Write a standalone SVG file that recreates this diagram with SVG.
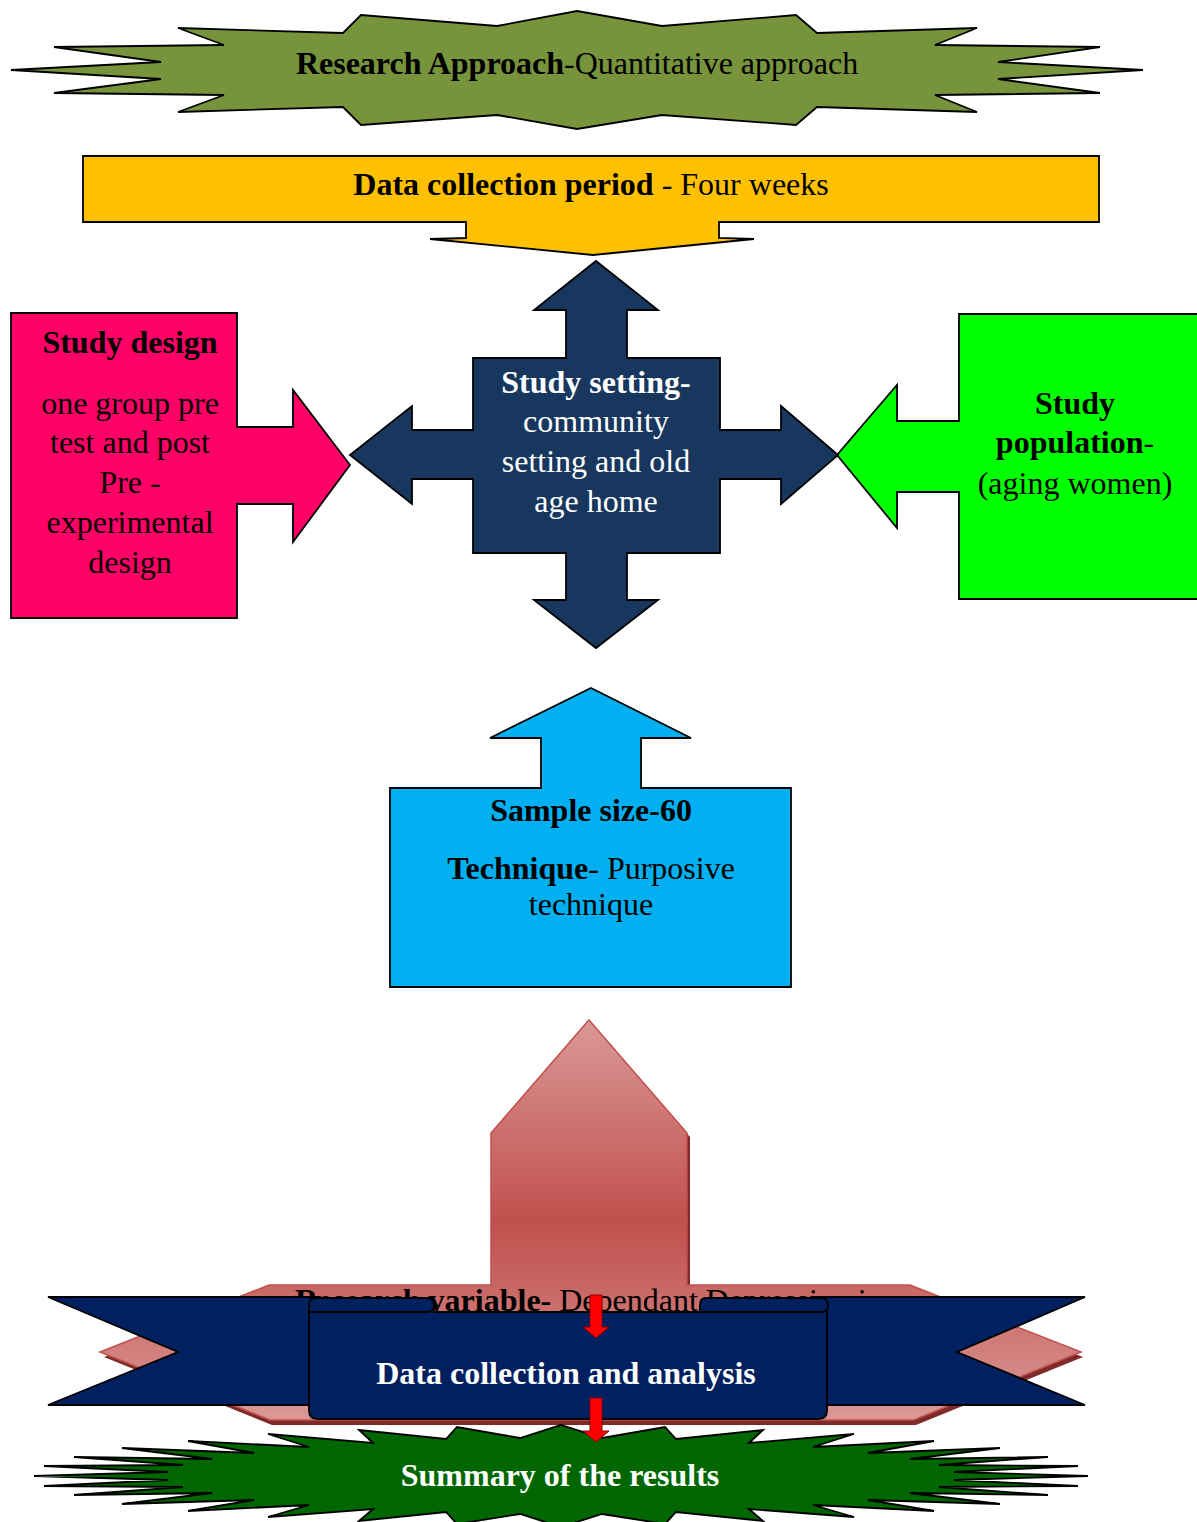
<svg xmlns="http://www.w3.org/2000/svg" width="1197" height="1522" viewBox="0 0 1197 1522">
<style>
text{font-family:"Liberation Serif","Times New Roman",serif;font-size:32px;text-anchor:middle}
.b{font-weight:bold}
.w{fill:#ffffff}
.k{fill:#000000}
.o{stroke:#000;stroke-width:1.8;stroke-linejoin:miter}
</style>
<defs>
<linearGradient id="rg" gradientUnits="userSpaceOnUse" x1="0" y1="1020" x2="0" y2="1425">
<stop offset="0" stop-color="#DA9896"/>
<stop offset="0.5" stop-color="#C0504D"/>
<stop offset="1" stop-color="#DB9A98"/>
</linearGradient>
</defs>

<g id="research-approach">
<polygon class="o" fill="#77933C" points="11,70 161,62 54,47 224,45 178,28 343,33 361,15 497,26 577,11 662,26 796,15 817,33 977,28 935,45 1100,47 998,62 1143,70 998,79 1100,93 935,95 977,112 817,107 796,125 662,115 577,129 497,115 361,125 343,107 178,112 224,95 54,93 161,79"/>
<text x="577" y="74" class="k"><tspan class="b">Research Approach</tspan>-Quantitative approach</text>
</g>

<g id="data-collection-period">
<polygon class="o" fill="#FFC000" points="83,156 1099,156 1099,222 719,222 719,238 754,239 593,255 430,239 466,238 466,222 83,222"/>
<text x="591" y="195" class="k"><tspan class="b">Data collection period</tspan> - Four weeks</text>
</g>

<g id="study-design">
<polygon class="o" fill="#FF0066" points="11,313 237,313 237,427 293,427 293,390 350,465 293,542 293,504 237,504 237,618 11,618"/>
<text x="130" y="353" class="k b">Study design</text>
<text x="130" y="414" class="k">one group pre</text>
<text x="130" y="453" class="k">test and post</text>
<text x="130" y="493" class="k">Pre -</text>
<text x="130" y="533" class="k">experimental</text>
<text x="130" y="573" class="k">design</text>
</g>

<g id="study-population">
<polygon class="o" fill="#00FF00" points="1199,314 959,314 959,421 897,421 897,385 837,455 897,528 897,492 959,492 959,599 1199,599"/>
<text x="1075" y="414" class="k b">Study</text>
<text x="1075" y="453" class="k"><tspan class="b">population</tspan>-</text>
<text x="1075" y="494" class="k">(aging women)</text>
</g>

<g id="study-setting">
<polygon class="o" fill="#17375E" points="596,261 658,310 627,310 627,358 720,358 720,430 781,430 781,406 838,455 781,504 781,479 720,479 720,553 627,553 627,600 658,600 596,648 534,600 566,600 566,553 473,553 473,479 412,479 412,504 350,455 412,406 412,430 473,430 473,358 566,358 566,310 534,310"/>
<text x="596" y="393" class="w b">Study setting-</text>
<text x="596" y="432" class="w">community</text>
<text x="596" y="472" class="w">setting and old</text>
<text x="596" y="512" class="w">age home</text>
</g>

<g id="sample">
<polygon class="o" fill="#00B0F0" points="591,688 691,738 641,738 641,788 791,788 791,987 390,987 390,788 541,788 541,738 490,738"/>
<text x="591" y="821" class="k b">Sample size-60</text>
<text x="591" y="879" class="k"><tspan class="b">Technique</tspan>- Purposive</text>
<text x="591" y="915" class="k">technique</text>
</g>

<g id="research-variable">
<polygon fill="#7F2A28" points="592,1024 690,1137 690,1290 912,1290 1083,1357 916,1425 272,1425 104,1357 271,1290 494,1290 494,1137"/>
<polygon fill="url(#rg)" stroke="#C0504D" stroke-width="1.5" points="589,1020 687,1133 687,1285 910,1285 1081,1352 914,1420 270,1420 100,1352 269,1285 491,1285 491,1133"/>
<text x="295" y="1311" class="k" style="text-anchor:start"><tspan class="b">Research variable-</tspan> Dependant Depression in</text>
</g>

<g id="data-collection-analysis">
<polygon class="o" fill="#002060" points="48,1297 320,1297 320,1405 48,1405 178,1352"/>
<polygon class="o" fill="#002060" points="1085,1297 815,1297 815,1405 1085,1405 957,1352"/>
<path class="o" fill="#002060" d="M309,1308 L309,1411 Q309,1419 318,1419 L818,1419 Q827,1419 827,1411 L827,1306 L700,1306 L700,1312 L434,1312 L434,1306 Z"/>
<path class="o" fill="#002060" d="M316,1298 L427,1298 Q434,1298 434,1305 Q434,1312 427,1312 L309,1312 L309,1305 Q309,1298 316,1298 Z"/>
<path class="o" fill="#002060" d="M706,1298 L821,1298 Q828,1298 828,1305 Q828,1312 821,1312 L700,1312 L700,1305 Q700,1298 706,1298 Z"/>
<text x="566" y="1384" class="w b">Data collection and analysis</text>
</g>

<g id="summary">
<polygon class="o" fill="#006600" points="34,1476 168,1472 44,1466 183,1465 74,1457 212,1459 122,1448 254,1453 188,1441 309,1447 268,1434 373,1443 359,1430 446,1439 457,1427 520,1438 561,1425 602,1438 665,1427 676,1439 763,1430 749,1443 854,1434 813,1447 934,1441 868,1453 1000,1448 910,1459 1048,1457 939,1465 1078,1466 954,1472 1088,1476 954,1480 1078,1486 939,1487 1048,1495 910,1493 1000,1504 868,1500 934,1511 813,1505 854,1517 749,1509 763,1521 676,1512 665,1524 602,1514 561,1527 520,1514 457,1524 446,1512 359,1521 373,1509 268,1517 309,1505 188,1511 254,1500 122,1504 212,1493 74,1495 183,1487 44,1486 168,1480"/>
<text x="560" y="1486" class="w b">Summary of the results</text>
</g>

<g id="connectors">
<polygon fill="#FF0000" stroke="#8B0000" stroke-width="1" points="590,1295 602,1295 602,1327 609,1327 596,1338 583,1327 590,1327"/>
<polygon fill="#FF0000" stroke="#8B0000" stroke-width="1" points="590,1398 602,1398 602,1431 609,1431 596,1442 583,1431 590,1431"/>
</g>
</svg>
